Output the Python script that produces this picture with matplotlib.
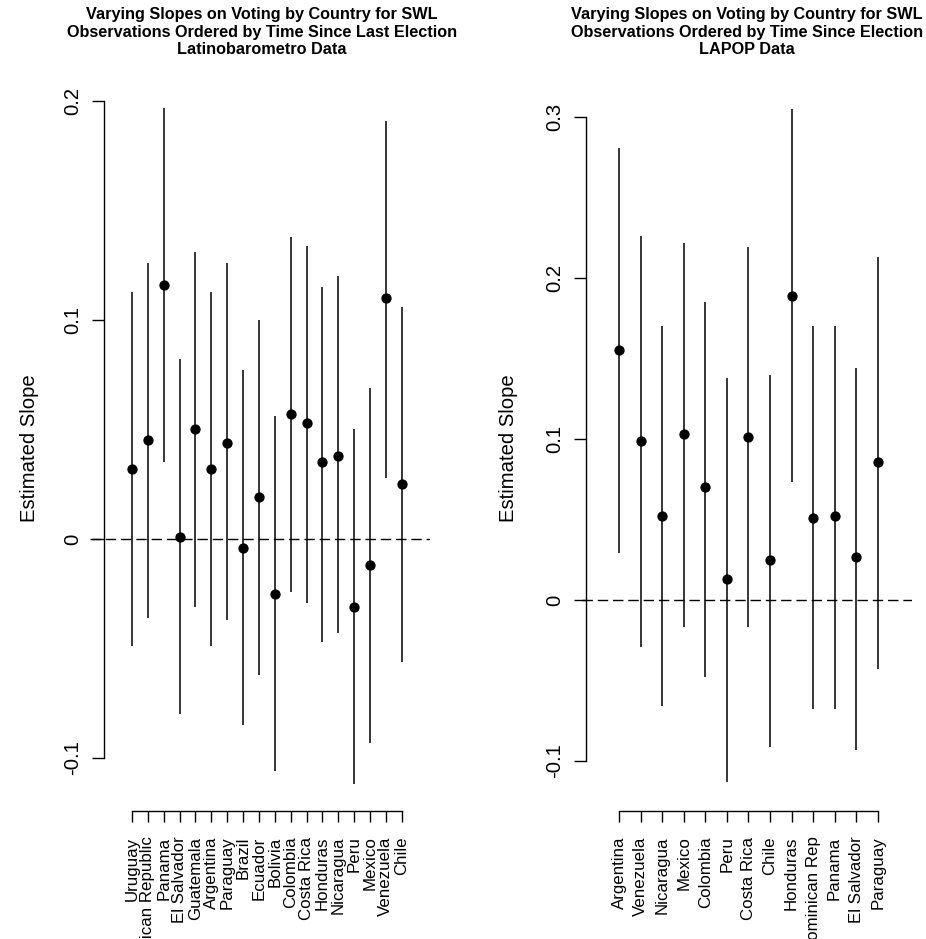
import matplotlib
matplotlib.use("Agg")
import matplotlib.pyplot as plt
import numpy as np

plt.rcParams['font.family'] = ['Liberation Sans', 'DejaVu Sans']

# ---------------- data ----------------
lb_countries = ["Uruguay", "Dominican Republic", "Panama", "El Salvador", "Guatemala",
                "Argentina", "Paraguay", "Brazil", "Ecuador", "Bolivia", "Colombia",
                "Costa Rica", "Honduras", "Nicaragua", "Peru", "Mexico", "Venezuela", "Chile"]
lb_est = [0.032, 0.045, 0.116, 0.001, 0.050, 0.032, 0.044, -0.004, 0.019, -0.025,
          0.057, 0.053, 0.035, 0.038, -0.031, -0.012, 0.110, 0.025]
lb_lo = [-0.049, -0.036, 0.035, -0.080, -0.031, -0.049, -0.037, -0.085, -0.062, -0.106,
         -0.024, -0.029, -0.047, -0.043, -0.112, -0.093, 0.028, -0.056]
lb_hi = [0.113, 0.126, 0.197, 0.082, 0.131, 0.113, 0.126, 0.077, 0.100, 0.056,
         0.138, 0.134, 0.115, 0.120, 0.050, 0.069, 0.191, 0.106]

lp_countries = ["Argentina", "Venezuela", "Nicaragua", "Mexico", "Colombia", "Peru",
                "Costa Rica", "Chile", "Honduras", "Dominican Rep", "Panama",
                "El Salvador", "Paraguay"]
lp_est = [0.155, 0.099, 0.052, 0.103, 0.070, 0.013, 0.101, 0.025, 0.189, 0.051, 0.052, 0.027, 0.086]
lp_lo = [0.029, -0.029, -0.066, -0.017, -0.048, -0.113, -0.017, -0.091, 0.073, -0.068, -0.068, -0.093, -0.043]
lp_hi = [0.281, 0.226, 0.170, 0.222, 0.185, 0.138, 0.219, 0.140, 0.305, 0.170, 0.170, 0.144, 0.213]

lb_yticks = [-0.1, 0.0, 0.1, 0.2]
lb_yticklabels = ["-0.1", "0", "0.1", "0.2"]
lp_yticks = [-0.1, 0.0, 0.1, 0.2, 0.3]
lp_yticklabels = ["-0.1", "0", "0.1", "0.2", "0.3"]

lb_title = ("Varying Slopes on Voting by Country for SWL\n"
            "Observations Ordered by Time Since Last Election\nLatinobarometro Data")
lp_title = ("Varying Slopes on Voting by Country for SWL\n"
            "Observations Ordered by Time Since Election\nLAPOP Data")

W, H = 926, 939
fig = plt.figure(figsize=(W / 100, H / 100), dpi=100)


def px_axes(x0, x1, ytop, ybot):
    return fig.add_axes([x0 / W, (H - ybot) / H, (x1 - x0) / W, (ybot - ytop) / H])


def panel(ax, countries, est, lo, hi, yticks, yticklabels, xlim, ylim, spine_x):
    x = np.arange(1, len(countries) + 1)
    ax.set_xlim(*xlim)
    ax.set_ylim(*ylim)
    ax.patch.set_visible(False)
    ax.axhline(0, color='black', lw=1.0, ls=(0, (7.5, 3.5)), zorder=1)
    ax.vlines(x, lo, hi, color='black', lw=1.1, zorder=2)
    ax.plot(x, est, 'o', color='black', ms=6.4, zorder=3)
    for s in ['top', 'right']:
        ax.spines[s].set_visible(False)
    ax.spines['left'].set_position(('data', spine_x))
    ax.spines['left'].set_bounds(yticks[0], yticks[-1])
    ax.spines['bottom'].set_bounds(x[0], x[-1])
    for s in ['left', 'bottom']:
        ax.spines[s].set_linewidth(1.0)
    ax.set_yticks(yticks)
    ax.set_yticklabels(yticklabels, rotation=90, va='center', fontsize=14.6)
    ax.tick_params(axis='y', length=8.6, width=1.0, pad=7)
    ax.set_xticks(x)
    ax.set_xticklabels(countries, rotation=90, ha='center', va='top', fontsize=12.2)
    ax.tick_params(axis='x', length=7.9, width=1.0, pad=10.5)


# Left panel (Latinobarometro)
axL = px_axes(90, 430, 85, 811)
sL = 15.87
panel(axL, lb_countries, lb_est, lb_lo, lb_hi, lb_yticks, lb_yticklabels,
      (1 + (90 - 132) / sL, 1 + (430 - 132) / sL),
      ((539 - 811) / 2190, (539 - 85) / 2190),
      1 + (104 - 132) / sL)
axL.set_ylabel("Estimated Slope", fontsize=14.6)
axL.yaxis.label.set_va('center')
axL.yaxis.set_label_coords((30 - 90) / 340, (811 - 448) / 726)

# Right panel (LAPOP)
axR = px_axes(582, 912, 85, 811)
sR = 21.53
panel(axR, lp_countries, lp_est, lp_lo, lp_hi, lp_yticks, lp_yticklabels,
      (1 + (582 - 619.3) / sR, 1 + (912 - 619.3) / sR),
      ((600 - 811) / 1610, (600 - 85) / 1610),
      1 + (586 - 619.3) / sR)
axR.set_ylabel("Estimated Slope", fontsize=14.6)
axR.yaxis.label.set_va('center')
axR.yaxis.set_label_coords((508 - 582) / 330, (811 - 448) / 726)

fig.text(262 / W, 1 - 32 / H, lb_title, ha='center', va='center', fontsize=11.7,
         fontweight='bold', linespacing=1.2)
fig.text(747 / W, 1 - 32 / H, lp_title, ha='center', va='center', fontsize=11.7,
         fontweight='bold', linespacing=1.2)

fig.savefig("out.png", dpi=100)
